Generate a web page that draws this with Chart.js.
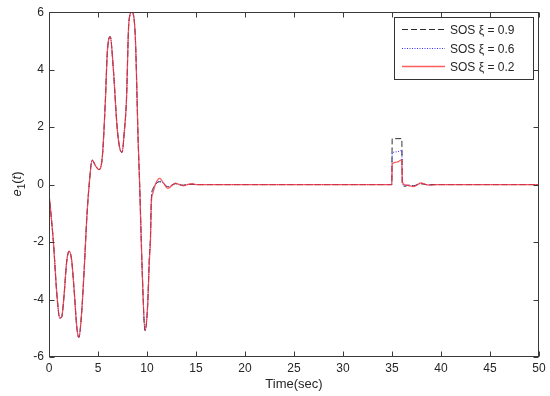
<!DOCTYPE html>
<html>
<head>
<meta charset="utf-8">
<script src="https://cdn.jsdelivr.net/npm/chart.js@4.4.1/dist/chart.umd.min.js"></script>
<style>
html,body{margin:0;padding:0;background:#fff;}
#wrap{width:550px;height:396px;}
</style>
</head>
<body>
<div id="wrap"><canvas id="c" width="550" height="396"></canvas></div>
<script>
// ---- data ----
const time = [0, 0.45, 0.8, 1.1, 1.3, 1.55, 1.8, 2.05, 2.3, 2.55, 2.85, 3.05, 3.3, 3.6, 3.85, 4.1, 4.4, 4.75, 5.1, 5.45,
  5.75, 5.95, 6.25, 6.55, 6.95, 7.2, 7.45, 7.7, 7.9, 8.15, 8.45, 8.8, 9.1, 9.25, 9.5, 9.8, 10.05, 10.25, 10.35, 10.45,
  10.6, 10.9, 11.3, 11.7, 12.1, 12.5, 12.9, 13.3, 13.7, 14.1, 14.6, 15.0, 20, 34.98, 35.02, 35.5, 36.0, 36.05, 36.3, 36.7,
  37.2, 37.6, 37.95, 38.5, 38.95, 39.5, 50];
const e1_xi02 = [-0.3, -2.0, -3.8, -4.65, -4.6, -3.8, -2.7, -2.32, -2.6, -3.6, -5.0, -5.32, -4.6, -2.9, -1.2, 0.0, 0.85, 0.65, 0.52, 1.0,
  2.9, 4.6, 5.15, 4.1, 2.0, 1.3, 1.12, 1.9, 2.9, 5.65, 6.0, 5.2, 1.5, 0.0, -2.9, -5.08, -4.3, -2.6, -2.0, -0.6,
  -0.3, 0.05, 0.22, 0.05, -0.13, -0.05, 0.05, 0.0, -0.04, 0.0, 0.03, 0, 0, 0, 0.72, 0.78, 0.86, 0.1, 0.0, -0.04,
  -0.07, 0.0, 0.06, 0.0, -0.02, 0, 0];
const e1_xi06 = [-0.3, -2.0, -3.8, -4.65, -4.6, -3.8, -2.7, -2.32, -2.6, -3.6, -5.0, -5.32, -4.6, -2.9, -1.2, 0.0, 0.85, 0.65, 0.52, 1.0,
  2.9, 4.6, 5.15, 4.1, 2.0, 1.3, 1.12, 1.9, 2.9, 5.65, 6.0, 5.2, 1.5, 0.0, -2.9, -5.08, -4.3, -2.5, -1.9, -0.5,
  -0.2, 0.03, 0.12, 0.04, -0.08, -0.03, 0.04, 0.0, -0.03, 0.0, 0.02, 0, 0, 0, 1.1, 1.14, 1.19, 0.08, -0.04, -0.02,
  -0.05, 0.0, 0.04, 0.0, -0.01, 0, 0];
const e1_xi09 = [-0.3, -2.0, -3.8, -4.65, -4.6, -3.8, -2.7, -2.32, -2.6, -3.6, -5.0, -5.32, -4.6, -2.9, -1.2, 0.0, 0.85, 0.65, 0.52, 1.0,
  2.9, 4.6, 5.15, 4.1, 2.0, 1.3, 1.12, 1.9, 2.9, 5.65, 6.0, 5.2, 1.5, 0.0, -2.9, -5.08, -4.3, -2.45, -1.85, -0.45,
  -0.15, 0.02, 0.1, 0.03, -0.07, -0.02, 0.03, 0.0, -0.02, 0.0, 0.01, 0, 0, 0, 1.6, 1.6, 1.6, 0.05, -0.06, -0.02,
  -0.04, 0.0, 0.03, 0.0, 0, 0, 0];
const seriesLabels = ['SOS \u03BE = 0.9', 'SOS \u03BE = 0.6', 'SOS \u03BE = 0.2'];
const xTicks = [0, 5, 10, 15, 20, 25, 30, 35, 40, 45, 50];
const yTicks = [-6, -4, -2, 0, 2, 4, 6];

const toPts = ys => time.map((t, i) => ({x: t, y: ys[i]}));
const FONT = '"Liberation Sans", Arial, sans-serif';
const AXIS = '#3a3a3a';
const TXT = '#262626';

const framePlugin = {
  id: 'frame',
  afterDatasetsDraw(chart) {
    const {ctx, chartArea: a, scales: {x, y}} = chart;
    ctx.save();
    ctx.strokeStyle = AXIS;
    ctx.lineWidth = 1;
    const L = Math.round(a.left) + 0.5, R = Math.round(a.right) - 0.5;
    const T = Math.round(a.top) + 0.5, B = Math.round(a.bottom) - 0.5;
    ctx.strokeRect(L, T, R - L, B - T);
    const tl = 5;
    ctx.beginPath();
    xTicks.forEach(v => {
      const px = Math.round(x.getPixelForValue(v)) + 0.5;
      ctx.moveTo(px, B); ctx.lineTo(px, B - tl);
      ctx.moveTo(px, T); ctx.lineTo(px, T + tl);
    });
    yTicks.forEach(v => {
      const py = Math.round(y.getPixelForValue(v)) + 0.5;
      ctx.moveTo(L, py); ctx.lineTo(L + tl, py);
      ctx.moveTo(R, py); ctx.lineTo(R - tl, py);
    });
    ctx.stroke();

    // legend
    const lx = 394.5, ly = 17.5, lw = 139, lh = 62;
    ctx.fillStyle = '#fff';
    ctx.fillRect(lx, ly, lw, lh);
    ctx.strokeStyle = '#333';
    ctx.strokeRect(lx, ly, lw, lh);
    const rows = [29.5, 48.5, 66.5];
    chart.data.datasets.forEach((ds, i) => {
      ctx.save();
      ctx.strokeStyle = ds.borderColor;
      ctx.lineWidth = ds.borderWidth;
      ctx.setLineDash(ds.borderDash || []);
      ctx.beginPath();
      ctx.moveTo(402, rows[i]); ctx.lineTo(445, rows[i]);
      ctx.stroke();
      ctx.restore();
      ctx.fillStyle = TXT;
      ctx.font = '12px ' + FONT;
      ctx.textBaseline = 'middle';
      ctx.textAlign = 'left';
      ctx.fillText(ds.label, 450, rows[i] + 1);
    });

    // y axis title e_1(t)
    ctx.save();
    ctx.translate(17, 184);
    ctx.rotate(-Math.PI / 2);
    ctx.fillStyle = TXT;
    ctx.textBaseline = 'alphabetic';
    ctx.textAlign = 'left';
    const parts = [
      {t: 'e', f: 'italic 13px ' + FONT, dy: 0},
      {t: '1', f: '10px ' + FONT, dy: 4},
      {t: '(', f: '13px ' + FONT, dy: 0},
      {t: 't', f: 'italic 13px ' + FONT, dy: 0},
      {t: ')', f: '13px ' + FONT, dy: 0}
    ];
    let w = 0;
    parts.forEach(p => { ctx.font = p.f; w += ctx.measureText(p.t).width; });
    let cx = -w / 2;
    parts.forEach(p => {
      ctx.font = p.f;
      ctx.fillText(p.t, cx, 4 + p.dy);
      cx += ctx.measureText(p.t).width;
    });
    ctx.restore();
    ctx.restore();
  }
};

new Chart(document.getElementById('c'), {
  type: 'line',
  data: {
    datasets: [
      {label: seriesLabels[0], data: toPts(e1_xi09), borderColor: '#2b2b2b', borderWidth: 1, borderDash: [6, 3], order: 3},
      {label: seriesLabels[1], data: toPts(e1_xi06), borderColor: '#3030ff', borderWidth: 1, borderDash: [1, 1.5], order: 2},
      {label: seriesLabels[2], data: toPts(e1_xi02), borderColor: 'rgba(255,50,50,0.78)', borderWidth: 1.3, order: 1}
    ]
  },
  options: {
    responsive: false,
    animation: false,
    events: [],
    layout: {padding: {top: 11, right: 11, left: 0, bottom: 0}},
    elements: {point: {radius: 0}, line: {cubicInterpolationMode: 'monotone', fill: false}},
    plugins: {legend: {display: false}, tooltip: {enabled: false}, title: {display: false}},
    scales: {
      x: {
        type: 'linear', min: 0, max: 50,
        afterBuildTicks: s => { s.ticks = xTicks.map(v => ({value: v})); },
        afterFit: s => { s.height = 39; },
        grid: {display: false, drawTicks: false},
        border: {display: false},
        ticks: {padding: 4, color: TXT, font: {family: FONT, size: 12}, maxRotation: 0},
        title: {display: true, text: 'Time(sec)', color: TXT, font: {family: FONT, size: 13}, padding: {top: 0, bottom: 4}}
      },
      y: {
        type: 'linear', min: -6, max: 6,
        afterBuildTicks: s => { s.ticks = yTicks.map(v => ({value: v})); },
        afterFit: s => { s.width = 49; },
        grid: {display: false, drawTicks: false},
        border: {display: false},
        ticks: {padding: 5, color: TXT, font: {family: FONT, size: 12}}
      }
    }
  },
  plugins: [framePlugin]
});
</script>
</body>
</html>
